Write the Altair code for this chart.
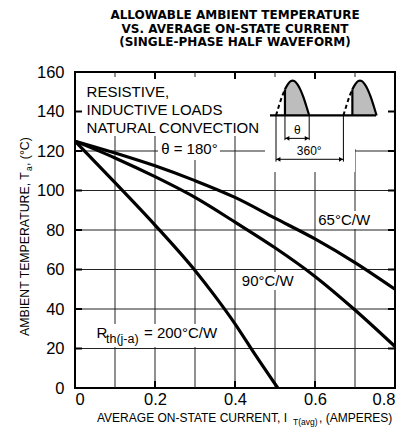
import altair as alt
import pandas as pd

FONT = "Liberation Sans"

# ---------------- data ----------------
curve_x_65 = [0, 0.1, 0.2, 0.3, 0.4, 0.5, 0.6, 0.7, 0.8]
curve_y_65 = [125, 119, 112.5, 105, 96.5, 86, 75.5, 63.5, 50]
curve_x_90 = [0, 0.1, 0.2, 0.3, 0.4, 0.5, 0.6, 0.7, 0.8]
curve_y_90 = [125, 116.5, 107, 96.5, 84, 71, 56.5, 39.5, 21]
curve_x_200 = [0, 0.1, 0.2, 0.3, 0.35, 0.4, 0.45, 0.507]
curve_y_200 = [125, 104, 82.5, 59.5, 46.5, 32.5, 17, 0]

x_tick_values = [0, 0.2, 0.4, 0.6, 0.8]
y_tick_values = [0, 20, 40, 60, 80, 100, 120, 140, 160]
x_grid_values = [0.1, 0.2, 0.3, 0.4, 0.5, 0.6, 0.7]
y_grid_values = [20, 40, 60, 80, 100, 120, 140]

# inset waveform (schematic half-wave shape)
hump_frac = [0, 0.09, 0.18, 0.27, 0.36, 0.45, 0.5, 0.55, 0.64, 0.73, 0.82, 0.91, 1.0]
hump_height = [0, 0.28, 0.54, 0.75, 0.90, 0.99, 1.0, 0.99, 0.90, 0.75, 0.54, 0.28, 0]
hump_starts = [0.5025, 0.671]
hump_width = 0.083
hump_amp = 17.6
wave_base = 138
theta_frac = 0.27
wave_line_x = [0.4875, 0.7525]

title_lines = ["ALLOWABLE AMBIENT TEMPERATURE",
               "VS. AVERAGE ON-STATE CURRENT",
               "(SINGLE-PHASE HALF WAVEFORM)"]

XS = alt.Scale(domain=[0, 0.8], nice=False, zero=False)
YS = alt.Scale(domain=[0, 160], nice=False, zero=False)

AX = alt.Axis(values=x_tick_values, grid=False, ticks=False, domain=False,
              labelFontSize=16.5, labelFont=FONT, labelColor="black", labelPadding=3,
              labelExpr="datum.value == 0 ? '0' : format(datum.value, '.1f')", title=None)
AY = alt.Axis(values=y_tick_values, grid=False, ticks=False, domain=False,
              labelFontSize=16.5, labelFont=FONT, labelColor="black", labelPadding=11,
              title=None)


def X(f):
    return alt.X(f, scale=XS, axis=AX)


def Y(f):
    return alt.Y(f, scale=YS, axis=AY)


# ---------------- grid ----------------
vgrid = alt.Chart(pd.DataFrame({"x": x_grid_values})).mark_rule(
    color="#222", strokeWidth=1).encode(x=X("x:Q"))
hgrid = alt.Chart(pd.DataFrame({"y": y_grid_values})).mark_rule(
    color="#222", strokeWidth=1).encode(y=Y("y:Q"))

# ---------------- white masks behind labels ----------------
masks = pd.DataFrame([
    dict(x=0.005, x2=0.48, y=127.6, y2=157.5),
    dict(x=0.2075, x2=0.3625, y=115.4, y2=127.6),
    dict(x=0.475, x2=0.795, y=121, y2=157.5),
    dict(x=0.475, x2=0.70, y=109.4, y2=121),
    dict(x=0.6025, x2=0.7425, y=80.5, y2=89.6),
    dict(x=0.41, x2=0.5525, y=49.6, y2=58.7),
    dict(x=0.0475, x2=0.365, y=20.8, y2=32.4),
])
mask_layer = alt.Chart(masks).mark_rect(color="white").encode(
    x=X("x:Q"), x2="x2:Q", y=Y("y:Q"), y2="y2:Q")

# ---------------- inward ticks ----------------
tick_rows = []
for v in [0.2, 0.4, 0.6]:
    tick_rows.append(dict(x=v, x2=v, y=160, y2=156.5))
    tick_rows.append(dict(x=v, x2=v, y=0, y2=3.5))
for v in y_grid_values:
    tick_rows.append(dict(x=0, x2=0.0175, y=v, y2=v))
    tick_rows.append(dict(x=0.7825, x2=0.8, y=v, y2=v))
tick_layer = alt.Chart(pd.DataFrame(tick_rows)).mark_rule(
    color="black", strokeWidth=2).encode(
    x=X("x:Q"), x2="x2:Q", y=Y("y:Q"), y2="y2:Q")

# ---------------- curves ----------------
curves = pd.concat([
    pd.DataFrame({"x": curve_x_65, "y": curve_y_65, "r": "65"}),
    pd.DataFrame({"x": curve_x_90, "y": curve_y_90, "r": "90"}),
    pd.DataFrame({"x": curve_x_200, "y": curve_y_200, "r": "200"}),
])
curve_layer = alt.Chart(curves).mark_line(
    color="black", strokeWidth=3.2, interpolate="monotone").encode(
    x=X("x:Q"), y=Y("y:Q"), detail="r:N")

# ---------------- inset waveform ----------------
wave_rows = []
for k, s in enumerate(hump_starts):
    for f, h in zip(hump_frac, hump_height):
        xx = s + f * hump_width
        yy = wave_base + h * hump_amp
        if f <= theta_frac:
            wave_rows.append(dict(x=xx, y=yy, seg=f"d{k}", part="dash"))
        if f >= theta_frac:
            wave_rows.append(dict(x=xx, y=yy, seg=f"s{k}", part="solid"))
wave = pd.DataFrame(wave_rows)
wave_solid = wave[wave.part == "solid"].assign(base=wave_base)
wave_dash = wave[wave.part == "dash"]

fill_layer = alt.Chart(wave_solid).mark_area(color="#bdbdbd", interpolate="monotone").encode(
    x=X("x:Q"), y=Y("y:Q"), y2="base:Q", detail="seg:N")
solid_layer = alt.Chart(wave_solid).mark_line(
    color="black", strokeWidth=2.2, interpolate="monotone").encode(
    x=X("x:Q"), y=Y("y:Q"), detail="seg:N")
dash_layer = alt.Chart(wave_dash).mark_line(
    color="black", strokeWidth=2, strokeDash=[4, 3], interpolate="monotone").encode(
    x=X("x:Q"), y=Y("y:Q"), detail="seg:N")

theta_x0 = hump_starts[0] + theta_frac * hump_width
theta_x1 = hump_starts[0] + hump_width
theta_top = wave_base + 0.75 * hump_amp
theta_x0b = hump_starts[1] + theta_frac * hump_width

thick_rows = [
    dict(x=wave_line_x[0], x2=wave_line_x[1], y=wave_base, y2=wave_base),
    dict(x=theta_x0, x2=theta_x0, y=wave_base, y2=theta_top),
    dict(x=theta_x0b, x2=theta_x0b, y=wave_base, y2=theta_top),
]
thick_layer = alt.Chart(pd.DataFrame(thick_rows)).mark_rule(
    color="black", strokeWidth=2.2).encode(
    x=X("x:Q"), x2="x2:Q", y=Y("y:Q"), y2="y2:Q")

dim_theta_y = 126.4
dim_360_y = 115.8
dim_rows = [
    dict(x=theta_x0, x2=theta_x0, y=wave_base, y2=125.5),
    dict(x=theta_x1, x2=theta_x1, y=wave_base, y2=125.5),
    dict(x=theta_x0, x2=theta_x1, y=dim_theta_y, y2=dim_theta_y),
    dict(x=hump_starts[0], x2=hump_starts[0], y=wave_base, y2=114.6),
    dict(x=hump_starts[1], x2=hump_starts[1], y=wave_base, y2=114.6),
    dict(x=hump_starts[0], x2=hump_starts[1], y=dim_360_y, y2=dim_360_y),
]
dim_layer = alt.Chart(pd.DataFrame(dim_rows)).mark_rule(
    color="black", strokeWidth=1).encode(
    x=X("x:Q"), x2="x2:Q", y=Y("y:Q"), y2="y2:Q")

arrow_rows = [
    dict(x=theta_x0 + 0.006, y=dim_theta_y, shape="triangle-left"),
    dict(x=theta_x1 - 0.006, y=dim_theta_y, shape="triangle-right"),
    dict(x=hump_starts[0] + 0.006, y=dim_360_y, shape="triangle-left"),
    dict(x=hump_starts[1] - 0.006, y=dim_360_y, shape="triangle-right"),
]
arrow_layer = alt.Chart(pd.DataFrame(arrow_rows)).mark_point(
    filled=True, color="black", size=22, opacity=1).encode(
    x=X("x:Q"), y=Y("y:Q"), shape=alt.Shape("shape:N", scale=None))

# ---------------- in-plot text ----------------
labels = pd.DataFrame([
    dict(x=0.029, y=147.2, t="RESISTIVE,", fs=15, al="left"),
    dict(x=0.029, y=138.2, t="INDUCTIVE LOADS", fs=15, al="left"),
    dict(x=0.029, y=129.3, t="NATURAL CONVECTION", fs=15, al="left"),
    dict(x=0.286, y=118.7, t="θ = 180°", fs=15, al="center"),
    dict(x=0.608, y=82.5, t="65°C/W", fs=15, al="left"),
    dict(x=0.417, y=51.6, t="90°C/W", fs=15, al="left"),
    dict(x=0.054, y=25.5, t="R", fs=15, al="left"),
    dict(x=0.0775, y=22.6, t="th(j-a)", fs=12.5, al="left"),
    dict(x=0.1725, y=25.5, t="= 200°C/W", fs=15, al="left"),
    dict(x=0.5558, y=128.8, t="θ", fs=12, al="center"),
    dict(x=0.5855, y=118.0, t="360°", fs=12, al="center"),
])
text_layers = []
for al in ["left", "center"]:
    text_layers.append(alt.Chart(labels[labels.al == al]).mark_text(
        align=al, baseline="alphabetic", font=FONT, color="black").encode(
        x=X("x:Q"), y=Y("y:Q"),
        text="t:N", size=alt.Size("fs:Q", scale=None)))

# ---------------- axis titles with subscripts ----------------
def ptext(txt, x, y, fs, angle=0):
    kw = dict(align="left", baseline="alphabetic", font=FONT, fontSize=fs,
              color="black", text=txt)
    if angle:
        kw["angle"] = angle
    return alt.Chart(pd.DataFrame({"a": [0]})).mark_text(**kw).encode(
        x=alt.value(x), y=alt.value(y))

xt = [
    ptext("AVERAGE ON-STATE CURRENT, I", 22, 350, 12),
    ptext("T(avg)", 218, 353, 8.5),
    ptext(", (AMPERES)", 244, 350, 12),
]
yt = [
    ptext("AMBIENT TEMPERATURE, T", -46, 264, 12.3, 270),
    ptext("a", -43, 99, 8.5, 270),
    ptext(", (°C)", -46, 94, 12.3, 270),
]

chart = alt.layer(
    vgrid, hgrid, mask_layer, tick_layer, curve_layer,
    fill_layer, solid_layer, dash_layer, thick_layer, dim_layer, arrow_layer,
    *text_layers, *xt, *yt,
).properties(
    width=320, height=316,
    padding={"left": 67, "top": 64, "right": 5, "bottom": 44},
    autosize=alt.AutoSizeParams(type="none"),
    title=alt.Title(title_lines, font="DejaVu Sans", fontSize=12, fontWeight="bold",
                    anchor="middle", offset=15, lineHeight=13.5, color="black"),
).configure_view(stroke="black", strokeWidth=2)

chart.save("out.html", embed_options={"renderer": "svg", "actions": False})
